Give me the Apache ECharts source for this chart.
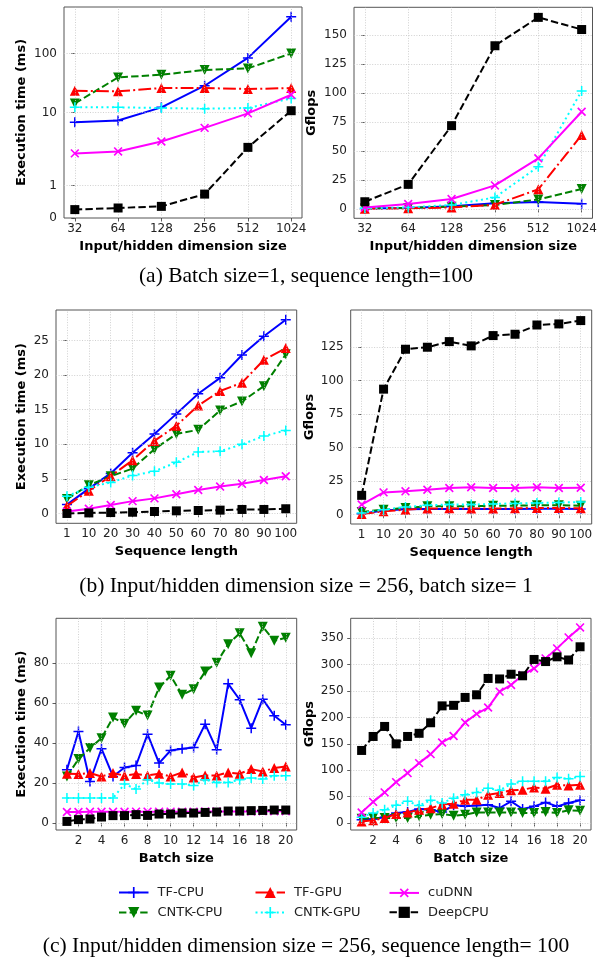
<!DOCTYPE html>
<html>
<head>
<meta charset="utf-8">
<script src="https://cdn.jsdelivr.net/npm/echarts@6/dist/echarts.min.js"></script>
<style>
html, body { margin: 0; padding: 0; background: #fff; }
#chart { width: 605px; height: 957px; }
</style>
</head>
<body>
<div id="chart"></div>
<script>
// series order is the legend order (column by column)
const seriesNames = ['TF-CPU', 'CNTK-CPU', 'TF-GPU', 'CNTK-GPU', 'cuDNN', 'DeepCPU'];

const dimLabels = ['32', '64', '128', '256', '512', '1024'];
const seqLabels = ['1', '10', '20', '30', '40', '50', '60', '70', '80', '90', '100'];
const batchSizes = [1, 2, 3, 4, 5, 6, 7, 8, 9, 10, 11, 12, 13, 14, 15, 16, 17, 18, 19, 20];

// (a) batch 1, seq 100 : execution time (ms) per dimension size
const timeByDim = [
  [7.4, 7.8, 12.3, 28.5, 84, 416],
  [14.3, 39.4, 43.7, 52.5, 55.8, 100],
  [23.5, 22.9, 26.1, 26, 25.1, 26],
  [12.3, 12.3, 12, 11.7, 12, 17.4],
  [2.77, 2.95, 4.04, 6.2, 9.8, 20.1],
  [0.26, 0.31, 0.36, 0.74, 3.35, 10.8]
];
// (a) Gflops per dimension size
const flopsByDim = [
  [0.5, 1, 2.3, 4.9, 6, 4.6],
  [0.5, 1, 2, 3.5, 8.3, 17.3],
  [0.3, 0.6, 1.4, 3.7, 17, 64],
  [0.6, 1.4, 3.5, 10, 36.6, 102],
  [1.4, 4.3, 8.6, 20.4, 43.8, 84],
  [6.3, 21.3, 72, 141, 165.5, 155]
];
// (b) dim 256, batch 1 : execution time per sequence length
const timeBySeq = [
  [1.3, 3.6, 5.8, 8.8, 11.5, 14.4, 17.3, 19.6, 22.9, 25.6, 28],
  [2.1, 4.1, 5.4, 6.5, 9.3, 11.5, 12.1, 14.9, 16.2, 18.4, 23],
  [1.1, 3.3, 5.4, 7.7, 10.5, 12.7, 15.6, 17.7, 18.9, 22.2, 23.9],
  [2.5, 3.8, 4.5, 5.5, 6.1, 7.4, 8.9, 9.0, 10.0, 11.2, 12.0],
  [0.3, 0.7, 1.25, 1.8, 2.2, 2.8, 3.4, 3.9, 4.3, 4.85, 5.4],
  [0.02, 0.1, 0.15, 0.2, 0.3, 0.4, 0.45, 0.5, 0.6, 0.6, 0.7]
];
// (b) Gflops per sequence length
const flopsBySeq = [
  [0.7, 3, 4, 4.2, 4.2, 4.2, 4.2, 4.2, 4.4, 4.4, 4.2],
  [2, 3.7, 5, 6.2, 6.2, 6.2, 6.7, 6.7, 7, 7, 6.7],
  [0.5, 2.5, 3.7, 4.5, 4.7, 4.5, 4.5, 4.7, 5, 5, 4.7],
  [1.2, 3.7, 5.7, 7, 7.5, 7.5, 8, 8.4, 8.7, 9, 9.4],
  [7.5, 16.6, 17.4, 18.6, 19.9, 20.4, 19.9, 19.9, 20.4, 19.9, 20.1],
  [14.4, 93.7, 123.5, 125, 129.2, 126, 133.7, 134.7, 141.6, 142.4, 144.9]
];
// (c) dim 256, seq 100 : execution time per batch size
const timeByBatch = [
  [26.7, 45.8, 20.8, 37.2, 23.3, 27.8, 28.8, 44.5, 30, 36.3, 37.2, 37.8, 49.5, 36.7, 69.7, 61.7, 47.5, 62, 53.7, 49.2],
  [23.3, 32, 37.5, 42.5, 52.8, 49.7, 56.2, 53.8, 67.8, 73.7, 64.2, 67, 75.8, 80.3, 89.5, 95, 85, 98.3, 91.2, 92.8],
  [24.7, 24.5, 25, 23.3, 25, 23.7, 24.5, 23.8, 24.7, 23.3, 25.3, 22.8, 23.8, 23.8, 25.3, 24.7, 27, 25.8, 27.5, 28.3],
  [12.5, 12.5, 12.5, 12.5, 12.5, 19.5, 17, 21.7, 20, 19.5, 19.5, 18.8, 21.7, 20.3, 20.3, 21.7, 22.5, 22, 23.7, 23.7],
  [5.5, 5.5, 5.6, 5.6, 5.6, 5.6, 5.7, 5.7, 5.7, 5.7, 5.7, 5.7, 5.8, 5.8, 5.8, 5.8, 5.8, 5.9, 5.9, 5.9],
  [0.8, 1.7, 2, 3, 3.7, 3.7, 4.2, 3.8, 4.5, 4.5, 5, 5, 5.3, 5.5, 6, 6, 6.2, 6.3, 6.5, 6.5]
];
// (c) Gflops per batch size
const flopsByBatch = [
  [6.3, 7.6, 10.7, 19, 21, 26.5, 25, 21, 33.4, 31.5, 33, 34.7, 28.4, 41, 26.5, 31.5, 39, 31.5, 37.8, 43],
  [8, 9.5, 9.5, 9.5, 9.5, 12.6, 15.8, 17, 13.9, 15.8, 20, 20, 20, 20, 19, 19, 21, 19, 24, 23.3],
  [3, 5, 9.5, 17, 20, 25, 28, 35, 36.6, 44, 44, 53.6, 56.7, 62, 63, 67.5, 65, 72.5, 71, 72.5],
  [11, 19, 25, 33.4, 41, 33, 43, 38, 47, 53.6, 58, 66, 62, 74, 79, 79, 79, 86, 84, 88],
  [20, 40, 58, 77.5, 94.6, 113.5, 130.5, 152.6, 165, 190.4, 206.8, 218.8, 249, 261.7, 280.6, 293, 312, 331, 351.8, 370.7],
  [137.5, 164, 183, 150, 164, 170, 190, 222, 223, 238, 243, 274, 273, 282, 279, 310, 306, 315, 309, 334]
];

const logTicks = [0, 1, 10, 100];
const gflopsTicksA = [0, 25, 50, 75, 100, 125, 150];
const timeTicksB = [0, 5, 10, 15, 20, 25];
const gflopsTicksB = [0, 25, 50, 75, 100, 125];
const timeTicksC = [0, 20, 40, 60, 80];
const gflopsTicksC = [0, 50, 100, 150, 200, 250, 300, 350];
const batchTicks = [2, 4, 6, 8, 10, 12, 14, 16, 18, 20];

const captions = [
  '(a) Batch size=1, sequence length=100',
  '(b) Input/hidden dimension size = 256, batch size= 1',
  '(c) Input/hidden dimension size = 256, sequence length= 100'
];

// the time axis of (a): linear 0..1, then one log piece per decade
function timeScale(v) {
  if (v <= 1) return v * 32.3;
  if (v <= 10) return 32.3 + Math.log10(v) * 73;
  return 105.3 + (Math.log10(v) - 1) * 59.3;
}

const PLUS = 'path://M0,8.5H20V11.5H0Z M8.5,0H11.5V20H8.5Z';
const styles = [
  { color: '#0000ff', type: 'solid', symbol: PLUS, size: 10, rotate: 0 },
  { color: '#008000', type: [7.4, 3.2], symbol: 'triangle', size: 10, rotate: 180 },
  { color: '#ff0000', type: [12.8, 3.2, 2, 3.2], symbol: 'triangle', size: 10, rotate: 0 },
  { color: '#00ffff', type: [2, 3.3], symbol: PLUS, size: 10, rotate: 0 },
  { color: '#ff00ff', type: 'solid', symbol: PLUS, size: 11, rotate: 45 },
  { color: '#000000', type: [7.4, 3.2], symbol: 'rect', size: 9, rotate: 0 }
];

const FONT = 'DejaVu Sans';
const grids = [
  { left: 64, top: 7, width: 238, height: 211 },
  { left: 354, top: 7.3, width: 238.5, height: 211 },
  { left: 56, top: 310, width: 240.7, height: 213.3 },
  { left: 350.7, top: 310, width: 241, height: 214 },
  { left: 56, top: 618.3, width: 240.7, height: 211.7 },
  { left: 350.7, top: 618.3, width: 240.3, height: 211.7 }
];

function xAxis(i, min, max, ticks, fmt, name) {
  return {
    type: 'value', gridIndex: i, min: min, max: max,
    name: name, nameLocation: 'middle', nameGap: 22,
    nameTextStyle: { fontFamily: FONT, fontSize: 13, fontWeight: 'bold', color: '#000' },
    axisLine: { show: false },
    axisTick: { show: true, inside: false, length: 3.5, customValues: ticks, lineStyle: { color: '#333', width: 0.8 } },
    axisLabel: { customValues: ticks, formatter: fmt, fontFamily: FONT, fontSize: 12, color: '#222', margin: 5 },
    splitLine: { show: false }
  };
}
function yAxis(i, min, max, ticks, fmt, name, gap) {
  return {
    type: 'value', gridIndex: i, min: min, max: max,
    name: name, nameLocation: 'middle', nameGap: gap, nameRotate: 90,
    nameTextStyle: { fontFamily: FONT, fontSize: 13, fontWeight: 'bold', color: '#000' },
    axisLine: { show: false },
    axisTick: { show: true, inside: false, length: 3.5, customValues: ticks, lineStyle: { color: '#333', width: 0.8 } },
    axisLabel: { customValues: ticks, formatter: fmt, fontFamily: FONT, fontSize: 12, color: '#222', margin: 7 },
    splitLine: { show: false }
  };
}

const logPos = logTicks.map(timeScale);
const dimIdx = dimLabels.map((d, k) => k);
const seqIdx = seqLabels.map((d, k) => k);

const xAxes = [
  xAxis(0, -0.25, 5.25, dimIdx, v => dimLabels[Math.round(v)], 'Input/hidden dimension size'),
  xAxis(1, -0.25, 5.25, dimIdx, v => dimLabels[Math.round(v)], 'Input/hidden dimension size'),
  xAxis(2, -0.5, 10.5, seqIdx, v => seqLabels[Math.round(v)], 'Sequence length'),
  xAxis(3, -0.5, 10.5, seqIdx, v => seqLabels[Math.round(v)], 'Sequence length'),
  xAxis(4, 0.05, 20.95, batchTicks, v => String(v), 'Batch size'),
  xAxis(5, 0.05, 20.95, batchTicks, v => String(v), 'Batch size')
];
const yAxes = [
  yAxis(0, 0, 211, logPos, v => {
    let k = 0;
    logPos.forEach((p, j) => { if (Math.abs(p - v) < Math.abs(logPos[k] - v)) k = j; });
    return String(logTicks[k]);
  }, 'Execution time (ms)', 36),
  yAxis(1, -8, 174.2, gflopsTicksA, v => String(v), 'Gflops', 36),
  yAxis(2, -1.4, 29.4, timeTicksB, v => String(v), 'Execution time (ms)', 28),
  yAxis(3, -7, 152.8, gflopsTicksB, v => String(v), 'Gflops', 35),
  yAxis(4, -3.5, 102.5, timeTicksC, v => String(v), 'Execution time (ms)', 28),
  yAxis(5, -13.3, 388, gflopsTicksC, v => String(v), 'Gflops', 35)
];

// dotted grid lines through each panel's own scale
function gridLines(i, xs, ys) {
  return {
    type: 'line', name: '_grid' + i, xAxisIndex: i, yAxisIndex: i, data: [], z: 1, silent: true,
    markLine: {
      silent: true, symbol: 'none', label: { show: false }, animation: false,
      lineStyle: { color: '#c4c4c4', width: 0.8, type: [1, 1.6] },
      emphasis: { disabled: true },
      data: xs.map(x => ({ xAxis: x })).concat(ys.map(y => ({ yAxis: y })))
    }
  };
}

function panelSeries(i, xs, rows, tf) {
  return rows.map((row, s) => ({
    type: 'line', name: seriesNames[s], xAxisIndex: i, yAxisIndex: i,
    data: row.map((v, k) => [xs[k], tf ? tf(v) : v]),
    symbol: styles[s].symbol, symbolSize: styles[s].size, symbolRotate: styles[s].rotate,
    showAllSymbol: true, clip: false, z: 2 + s,
    lineStyle: { color: styles[s].color, width: 2, type: styles[s].type },
    itemStyle: { color: styles[s].color, borderWidth: 0 },
    emphasis: { disabled: true }
  }));
}

const series = [
  gridLines(0, dimIdx, logPos.slice(1)),
  gridLines(1, dimIdx, gflopsTicksA),
  gridLines(2, seqIdx, timeTicksB),
  gridLines(3, seqIdx, gflopsTicksB),
  gridLines(4, batchTicks, timeTicksC),
  gridLines(5, batchTicks, gflopsTicksC)
].concat(
  panelSeries(0, dimIdx, timeByDim, timeScale),
  panelSeries(1, dimIdx, flopsByDim),
  panelSeries(2, seqIdx, timeBySeq),
  panelSeries(3, seqIdx, flopsBySeq),
  panelSeries(4, batchSizes, timeByBatch),
  panelSeries(5, batchSizes, flopsByBatch)
);

const legendBase = {
  orient: 'vertical', itemWidth: 29.5, itemHeight: 14, padding: 0,
  textStyle: { fontFamily: FONT, fontSize: 13, color: '#222', padding: [0, 0, 0, 4] }, selectedMode: false
};

const captionStyle = { fontFamily: 'Liberation Serif', fontSize: 21.5, fontWeight: 'normal', color: '#000' };

const chart = echarts.init(document.getElementById('chart'), null, { renderer: 'canvas' });
chart.setOption({
  animation: false,
  backgroundColor: '#fff',
  title: [
    { text: captions[0], left: 306, textAlign: 'center', top: 265, padding: 0, textStyle: captionStyle },
    { text: captions[1], left: 306, textAlign: 'center', top: 575, padding: 0, textStyle: captionStyle },
    { text: captions[2], left: 306, textAlign: 'center', top: 935, padding: 0, textStyle: captionStyle }
  ],
  grid: grids.map(g => Object.assign({ show: true, borderColor: '#555', borderWidth: 1, backgroundColor: 'transparent', containLabel: false }, g)),
  xAxis: xAxes,
  yAxis: yAxes,
  legend: [
    Object.assign({ left: 118, top: 886, itemGap: 7, data: ['TF-CPU', 'CNTK-CPU'] }, legendBase),
    Object.assign({ left: 254.5, top: 886, itemGap: 7, data: ['TF-GPU', 'CNTK-GPU'] }, legendBase),
    Object.assign({ left: 388.5, top: 885, itemGap: 5, data: ['cuDNN', 'DeepCPU'] }, legendBase)
  ],
  series: series
});
</script>
</body>
</html>
